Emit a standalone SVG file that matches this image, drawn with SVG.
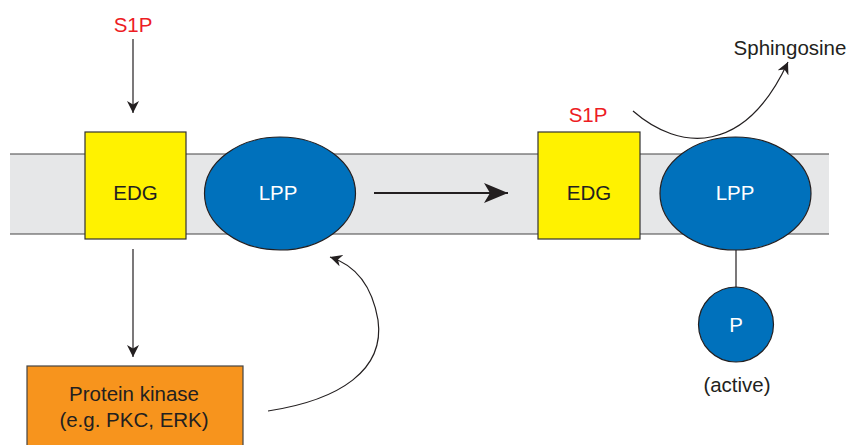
<svg xmlns="http://www.w3.org/2000/svg" width="852" height="445" viewBox="0 0 852 445">
<style>
.t{font-family:"Liberation Sans",Arial,sans-serif;font-size:20.5px;text-anchor:middle;fill:#231f20}
.w{fill:#ffffff}
.r{fill:#ed1c24}
.edg{fill:#fff200;stroke:#333;stroke-width:1.2}
.lpp{fill:#0071bc;stroke:#231f20;stroke-width:1.2}
.c{fill:none;stroke:#231f20;stroke-width:1.2}
</style>
<defs>
<marker id="ah" markerUnits="userSpaceOnUse" markerWidth="12" markerHeight="12" viewBox="0 0 10 10" refX="10" refY="5" orient="auto">
<path d="M0,0 L10,5 L0,10 L3,5 Z" fill="#231f20"/>
</marker>
<marker id="ahb" markerUnits="userSpaceOnUse" markerWidth="24" markerHeight="20" viewBox="0 0 24 20" refX="24" refY="10" orient="auto">
<path d="M0,0 L24,10 L0,20 L6,10 Z" fill="#231f20"/>
</marker>
</defs>
<g id="membrane">
<rect x="10" y="154" width="819" height="80" fill="#e6e7e8"/>
<line x1="10" y1="154" x2="829" y2="154" stroke="#444" stroke-width="1.2"/>
<line x1="10" y1="234" x2="829" y2="234" stroke="#444" stroke-width="1.2"/>
</g>
<g id="connectors">
<line class="c" x1="133" y1="39" x2="133" y2="113" marker-end="url(#ah)"/>
<line class="c" x1="133" y1="249" x2="133" y2="357" marker-end="url(#ah)"/>
<line x1="374" y1="193" x2="508" y2="193" stroke="#231f20" stroke-width="2.2" marker-end="url(#ahb)"/>
<path class="c" d="M268,411 C340,400 385,370 378,320 C372,285 355,265 330,257" marker-end="url(#ah)"/>
<path class="c" d="M633,111 C680,152 745,155 788,62" marker-end="url(#ah)"/>
<line class="c" x1="736" y1="250" x2="736" y2="287"/>
</g>
<g id="s1p-left"><text class="t r" x="133" y="32">S1P</text></g>
<g id="edg-left">
<rect class="edg" x="85" y="132" width="101" height="107"/>
<text class="t" x="135.5" y="199.5">EDG</text>
</g>
<g id="lpp-left">
<ellipse class="lpp" cx="280" cy="193.5" rx="75.5" ry="56.5"/>
<text class="t w" x="278" y="199.5">LPP</text>
</g>
<g id="s1p-right"><text class="t r" x="588" y="122">S1P</text></g>
<g id="edg-right">
<rect class="edg" x="538" y="132" width="102" height="107"/>
<text class="t" x="589" y="199.5">EDG</text>
</g>
<g id="lpp-right">
<ellipse class="lpp" cx="735.5" cy="193.5" rx="75.5" ry="56.5"/>
<text class="t w" x="735" y="199.5">LPP</text>
</g>
<g id="sphingosine"><text class="t" x="790" y="55">Sphingosine</text></g>
<g id="phosphate">
<circle class="lpp" cx="736" cy="324.5" r="37.5"/>
<text class="t w" x="736" y="332">P</text>
</g>
<g id="active"><text class="t" x="737" y="392">(active)</text></g>
<g id="protein-kinase">
<rect x="27" y="366" width="216" height="90" fill="#f7941d" stroke="#444" stroke-width="1.2"/>
<text class="t" x="134" y="401">Protein kinase</text>
<text class="t" x="134" y="427">(e.g. PKC, ERK)</text>
</g>
</svg>
